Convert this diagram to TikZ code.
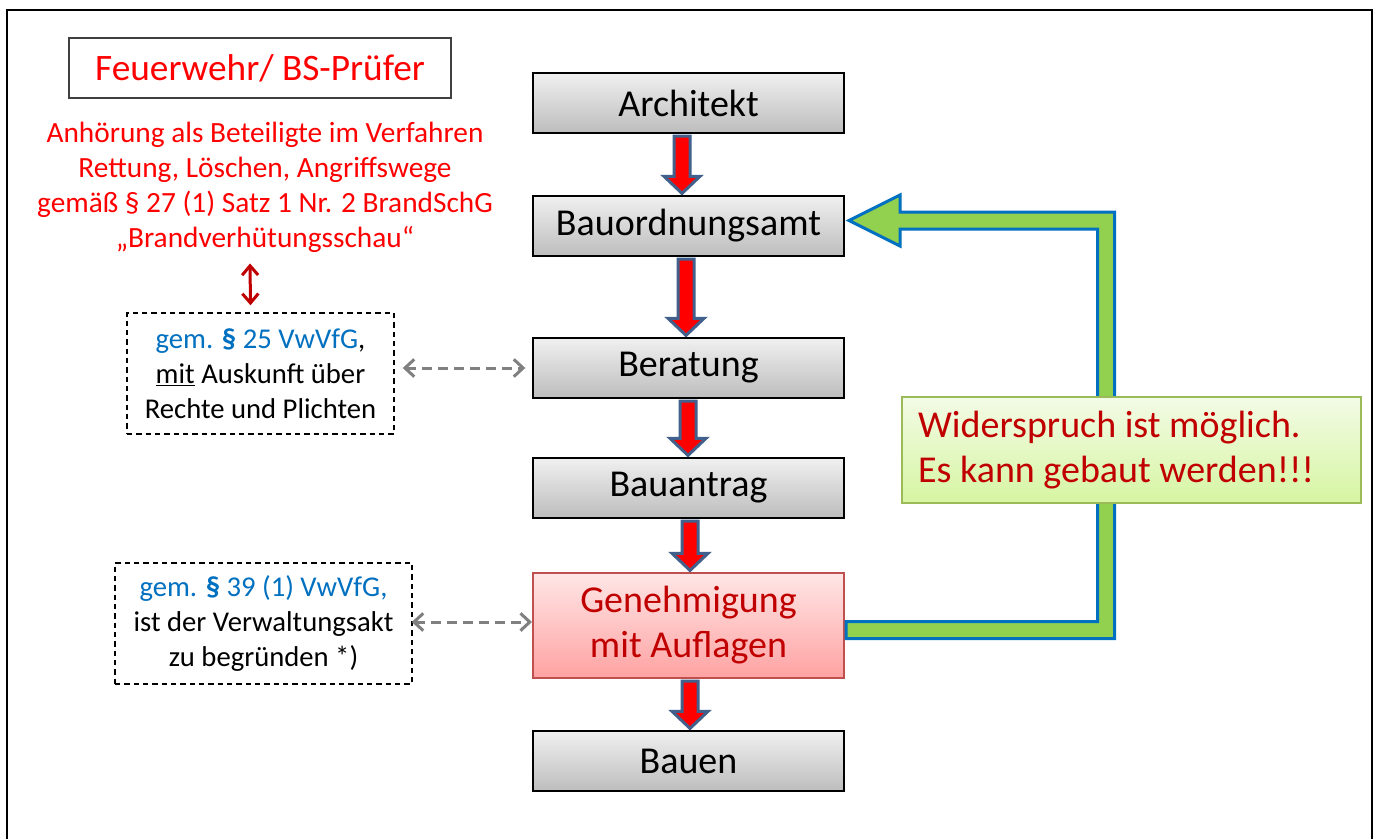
\documentclass[tikz,border=0pt]{standalone}
\usepackage{fontspec}
\setmainfont{Carlito}
\usetikzlibrary{arrows.meta,calc}
\definecolor{textred}{HTML}{FF0000}
\definecolor{darkred}{HTML}{C00000}
\definecolor{textblue}{HTML}{0070C0}
\definecolor{grayTop}{HTML}{F0F0F0}
\definecolor{grayBot}{HTML}{BDBDBD}
\definecolor{genTop}{HTML}{FFE6E6}
\definecolor{genBot}{HTML}{FFA2A2}
\definecolor{genLine}{HTML}{C0504D}
\definecolor{greenTop}{HTML}{F3FBE6}
\definecolor{greenBot}{HTML}{D6F5A2}
\definecolor{greenLine}{HTML}{9BBB59}
\definecolor{arrowBlue}{HTML}{41608C}
\definecolor{bandGreen}{HTML}{92D050}
\definecolor{bandBlue}{HTML}{0070C0}
\definecolor{dashGray}{HTML}{808080}
\tikzset{
  frameline/.style={draw=black, line width=1.5pt},
  mainbox/.style={draw=black, line width=1.5pt, top color=grayTop, bottom color=grayBot,
    minimum width=233.25pt, minimum height=45pt, inner sep=0pt,
    font=\fontsize{28.5}{34}\selectfont},
  genbox/.style={mainbox, draw=genLine, top color=genTop, bottom color=genBot,
    minimum height=78.75pt, text=darkred, align=center,
    font=\fontsize{28.5}{33.75}\selectfont},
  fwbox/.style={draw=black!75, line width=1.5pt, minimum width=286.5pt, minimum height=45pt,
    inner sep=0pt, text=textred, font=\fontsize{28}{34}\selectfont},
  redblock/.style={align=center, inner sep=0pt, text=textred, font=\fontsize{22}{26.25}\selectfont},
  dashbox/.style={draw=black, line width=1.1pt, dash pattern=on 4pt off 3pt,
    minimum height=90.75pt, inner sep=0pt, align=center, font=\fontsize{21.5}{26.25}\selectfont},
  greenbox/.style={draw=greenLine, line width=1.5pt, top color=greenTop, bottom color=greenBot,
    minimum width=344.25pt, minimum height=79.5pt, text width=320pt, inner xsep=12pt, inner ysep=0pt,
    align=flush left, text=darkred, font=\fontsize{28.5}{33.75}\selectfont},
  blockarr/.style={draw=arrowBlue, fill=red, line width=2.25pt, line join=miter},
  bandarrow/.style={draw=bandBlue, fill=bandGreen, line width=2.25pt, line join=miter},
  dasharrow/.style={draw=dashGray, line width=2.25pt, dash pattern=on 7pt off 5pt,
    {Straight Barb[length=7pt,width=13pt]}-{Straight Barb[length=7pt,width=13pt]}},
  dblarrow/.style={draw=darkred, line width=2.25pt,
    {Straight Barb[length=7pt,width=12pt]}-{Straight Barb[length=7pt,width=12pt]}}
}
\newcommand\blockarrow[3]{%
  \draw[blockarr] let \p1=($(#1.south)+(#3,2)$), \p2=($(#2.north)+(#3,0)$) in
    (\x1-6pt,\y1) -- (\x1-6pt,\y2+14pt) -- (\x1-13.5pt,\y2+14pt) -- (\x1,\y2+1.2pt)
    -- (\x1+13.5pt,\y2+14pt) -- (\x1+6pt,\y2+14pt) -- (\x1+6pt,\y1) -- cycle;}
\begin{document}
\begin{tikzpicture}[x=0.75pt,y=-0.75pt]
\useasboundingbox (0,0) rectangle (1375,839);
\fill[white] (0,0) rectangle (1375,839);
\draw[frameline] (7,850) -- (7,10) -- (1372,10) -- (1372,850);

% main flow boxes
\node[mainbox] (arch) at (688.5,103) {Architekt};
\node[mainbox] (bau) at (688.5,226) {Bauordnungsamt};
\node[mainbox] (ber) at (688.5,368) {Beratung};
\node[mainbox] (antr) at (688.5,488) {Bauantrag};
\node[genbox] (gen) at (688.5,625.5) {Genehmigung\\mit Auflagen};
\node[mainbox] (bauen) at (688.5,761) {Bauen};

% block arrows
\blockarrow{arch}{bau}{-6.5}
\blockarrow{bau}{ber}{-2.5}
\blockarrow{ber}{antr}{-0.5}
\blockarrow{antr}{gen}{1.5}
\blockarrow{gen}{bauen}{1.5}

% green feedback arrow
\path[bandarrow] let \p1=($(gen.east)+(1,4.5)$), \p2=($(bau.east)+(4,-5.5)$) in
  (\x1,\y1+6.375pt) -- (823.125pt,\y1+6.375pt) -- (823.125pt,\y2-6.375pt)
  -- (675pt,\y2-6.375pt) -- (675pt,\y2-19.125pt) -- (\x2,\y2)
  -- (675pt,\y2+19.125pt) -- (675pt,\y2+6.375pt) -- (835.875pt,\y2+6.375pt)
  -- (835.875pt,\y1-6.375pt) -- (\x1,\y1-6.375pt) -- cycle;

\node[greenbox] (wid) at (1131.5,450) {Widerspruch ist möglich.\\Es kann gebaut werden!!!};

% left column
\node[fwbox] (fw) at (260,68) {Feuerwehr/ BS-Prüfer};
\node[redblock] (rt) at (265,187) {Anhörung als Beteiligte im Verfahren\\Rettung, Löschen, Angriffswege\\gemäß § 27 (1) Satz 1 Nr. 2 BrandSchG\\„Brandverhütungsschau“};
\node[dashbox, minimum width=200.25pt] (d1) at (260.5,373.5)
  {{\color{textblue}gem. \textbf{§} 25 VwVfG},\\\underline{mit} Auskunft über\\Rechte und Plichten};
\node[dashbox, minimum width=222.75pt] (d2) at (263.5,623.5)
  {{\color{textblue}gem. \textbf{§} 39 (1) VwVfG,}\\ist der Verwaltungsakt\\zu begründen *)};

\draw[dblarrow] ($(rt.south)+(-15,11)$) -- ($(d1.north)+(-10,-7)$);
\draw[dasharrow, shorten <=6pt, shorten >=5pt] (d1.east |- ber.west) -- (ber.west);
\draw[dasharrow] ($(d2.east)+(-1,-1.5)$) -- ($(gen.west)+(0,-3.5)$);
\end{tikzpicture}
\end{document}
